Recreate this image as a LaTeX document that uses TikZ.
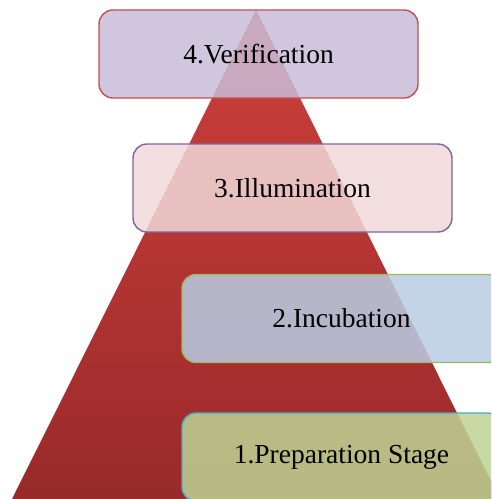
\documentclass[tikz,border=0pt]{standalone}
\usepackage{fontspec}
\setmainfont{Liberation Serif}
\definecolor{triTop}{RGB}{207,64,60}
\definecolor{triBot}{RGB}{152,42,42}
\definecolor{fillD}{RGB}{200,188,216}
\definecolor{lineD}{RGB}{192,80,77}
\definecolor{fillC}{RGB}{240,216,216}
\definecolor{lineC}{RGB}{128,100,162}
\definecolor{fillB}{RGB}{185,205,228}
\definecolor{lineB}{RGB}{155,187,89}
\definecolor{fillA}{RGB}{190,212,148}
\definecolor{lineA}{RGB}{75,172,198}
\begin{document}
\begin{tikzpicture}[x=1pt,y=-1pt,
  stagebox/.style={rectangle, rounded corners=14pt, minimum width=319pt, minimum height=88pt,
     line width=1.4pt, fill opacity=0.85, text opacity=1, inner sep=0pt,
     font=\fontsize{27.5}{30}\selectfont, text=black}]
\useasboundingbox (0,0) rectangle (491,499);
\clip (0,0) rectangle (491,499);
\shade[top color=triTop, bottom color=triBot] (256,10) -- (12,499) -- (500,499) -- cycle;
\node[stagebox, draw=lineD, fill=fillD] (verif) at (258.5,54) {4.Verification};
\node[stagebox, draw=lineC, fill=fillC] (illum) at (292.5,188) {3.Illumination};
\node[stagebox, draw=lineB, fill=fillB] (incub) at (341.5,318.5) {2.Incubation};
\node[stagebox, draw=lineA, fill=fillA] (prep) at (341.5,457) {1.Preparation Stage};
\end{tikzpicture}
\end{document}
